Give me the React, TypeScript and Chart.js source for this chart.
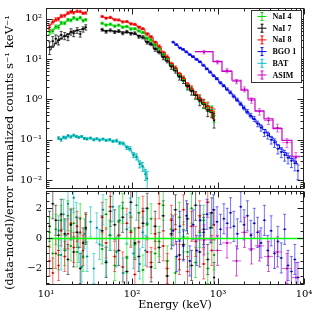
import { useEffect, useRef } from 'react';
import { Chart, registerables } from 'chart.js';
Chart.register(...registerables);

// ---------- axis limits ----------
const X_MIN = 10, X_MAX = 10000;
const Y_MIN = 0.006, Y_MAX = 186;
const R_MIN = -3.1, R_MAX = 3.15;

// ---------- NaI (GBM) ----------
const naiLowE = [11, 12, 13, 14, 15, 16.5, 18, 19.5, 21, 23, 25, 27, 29];
const naiHighE = [45, 50, 56, 63, 70, 78, 87, 97, 108, 120, 134, 150, 167, 186, 207, 231, 257, 287, 320, 356, 397, 442, 493, 549, 612, 682, 760, 847, 900];
const naiLowErr = [0.15, 0.12, 0.1, 0.1, 0.09, 0.08, 0.08, 0.08, 0.07, 0.07, 0.07, 0.07, 0.07];
const naiLowErrBlack = [0.35, 0.3, 0.25, 0.25, 0.22, 0.2, 0.2, 0.18, 0.18, 0.16, 0.16, 0.15, 0.15];
const naiHighErr = [0.06, 0.06, 0.06, 0.06, 0.06, 0.06, 0.06, 0.06, 0.06, 0.06, 0.06, 0.07, 0.07, 0.08, 0.08, 0.09, 0.1, 0.1, 0.11, 0.12, 0.13, 0.14, 0.15, 0.17, 0.19, 0.21, 0.23, 0.26, 0.3];
const naiHighErrBlack = [0.08, 0.08, 0.08, 0.08, 0.08, 0.08, 0.08, 0.08, 0.08, 0.08, 0.09, 0.09, 0.1, 0.1, 0.11, 0.12, 0.13, 0.14, 0.15, 0.16, 0.17, 0.18, 0.2, 0.22, 0.24, 0.26, 0.28, 0.3, 0.35];

const nai8ModelLow = [70, 82, 93, 103, 112, 124, 135, 143, 148, 150, 148, 143, 136];
const nai8DataLow = [62, 85, 97, 99, 118, 120, 140, 150, 142, 155, 152, 138, 140];
const nai8ModelHigh = [111, 108, 105, 98, 91, 87, 83, 78, 71, 65, 55, 44, 35, 27, 20.5, 15, 11, 7.9, 5.9, 4.4, 3.3, 2.44, 1.81, 1.36, 1.06, 0.84, 0.67, 0.53, 0.42];
const nai8DataHigh = [115, 104, 109, 95, 94, 84, 86, 75, 73, 62, 57, 42, 36, 26, 21, 14.5, 11.5, 7.6, 6.1, 4.2, 3.4, 2.3, 1.9, 1.3, 1.1, 0.8, 0.7, 0.5, 0.45];

const nai4ModelLow = [45, 53, 61, 68, 75, 83, 90, 96, 100, 102, 101, 97, 92];
const nai4DataLow = [48, 50, 64, 62, 80, 78, 95, 92, 106, 98, 108, 90, 95];
const nai4ModelHigh = [75, 73, 71, 69, 68, 65, 62, 59, 55, 52, 44, 35, 29, 23.7, 18.4, 13.7, 10.1, 7.5, 5.6, 4.2, 3.1, 2.3, 1.71, 1.29, 1.0, 0.79, 0.63, 0.5, 0.4];
const nai4DataHigh = [78, 70, 74, 66, 70, 62, 65, 56, 57, 50, 46, 33, 30, 22.5, 19, 13, 10.5, 7.2, 5.8, 4.0, 3.2, 2.2, 1.8, 1.25, 1.05, 0.75, 0.66, 0.55, 0.38];

const nai7ModelLow = [17, 21, 25, 29, 33, 37, 41, 45, 48, 51, 54, 57, 59];
const nai7DataLow = [20, 28, 32, 30, 40, 38, 36, 48, 44, 52, 42, 55, 62];
const nai7ModelHigh = [51, 51, 51, 49, 48, 47, 46, 45, 42, 39, 34, 27.5, 23, 18.4, 14.7, 11.7, 8.9, 6.8, 5.1, 3.8, 2.9, 2.2, 1.67, 1.27, 0.98, 0.76, 0.57, 0.47, 0.33];
const nai7DataHigh = [54, 48, 52, 47, 50, 44, 48, 43, 44, 36, 35, 26, 24, 17.5, 15.2, 11, 9.3, 6.5, 5.3, 3.6, 3.0, 2.1, 1.6, 1.3, 0.92, 0.8, 0.52, 0.5, 0.3];

// ---------- BAT ----------
const batE = [14, 15, 16, 17, 18, 19.5, 21, 22.5, 24, 26, 28, 30, 33, 36, 39, 42, 46, 50, 55, 60, 66, 72, 79, 87, 95, 104, 113, 123, 133, 143, 150];
const batModel = [0.105, 0.108, 0.112, 0.116, 0.12, 0.123, 0.124, 0.123, 0.12, 0.117, 0.113, 0.11, 0.107, 0.105, 0.104, 0.103, 0.102, 0.1, 0.098, 0.095, 0.092, 0.087, 0.079, 0.068, 0.056, 0.045, 0.036, 0.028, 0.021, 0.016, 0.012];
const batData = [0.11, 0.1, 0.115, 0.112, 0.125, 0.118, 0.13, 0.121, 0.115, 0.12, 0.108, 0.105, 0.11, 0.1, 0.106, 0.098, 0.104, 0.097, 0.1, 0.092, 0.095, 0.083, 0.081, 0.064, 0.06, 0.042, 0.038, 0.025, 0.022, 0.014, 0.011];
const batErr = [0.08, 0.08, 0.07, 0.07, 0.07, 0.07, 0.06, 0.06, 0.06, 0.06, 0.06, 0.06, 0.06, 0.06, 0.06, 0.06, 0.06, 0.06, 0.07, 0.07, 0.08, 0.08, 0.09, 0.1, 0.12, 0.14, 0.17, 0.2, 0.25, 0.3, 0.5];

// ---------- BGO ----------
const bgoE = [300, 330, 360, 395, 430, 470, 515, 565, 620, 680, 745, 815, 890, 975, 1070, 1170, 1280, 1400, 1530, 1680, 1840, 2010, 2200, 2410, 2640, 2890, 3160, 3460, 3790, 4150, 4540, 4970, 5440, 5960, 6520, 7140, 7820, 8500];
const bgoModel = [25.8, 22.2, 19.4, 16.9, 14.7, 12.8, 11.1, 9.6, 8.3, 6.8, 5.5, 4.6, 3.8, 3.1, 2.55, 2.1, 1.73, 1.42, 1.16, 0.93, 0.74, 0.59, 0.47, 0.38, 0.32, 0.26, 0.22, 0.18, 0.147, 0.117, 0.094, 0.074, 0.059, 0.048, 0.04, 0.034, 0.0295, 0.0254];
const bgoData = [26.5, 23, 19, 17.5, 15.2, 13, 11.6, 9.9, 8.6, 7.1, 5.8, 4.8, 3.9, 3.3, 2.6, 2.2, 1.8, 1.5, 1.2, 0.98, 0.78, 0.62, 0.5, 0.4, 0.33, 0.25, 0.2, 0.15, 0.13, 0.1, 0.085, 0.06, 0.05, 0.042, 0.036, 0.03, 0.026, 0.017];
const bgoErr = [0.05, 0.05, 0.05, 0.05, 0.05, 0.05, 0.05, 0.05, 0.05, 0.05, 0.05, 0.06, 0.06, 0.06, 0.07, 0.07, 0.08, 0.08, 0.09, 0.1, 0.1, 0.11, 0.12, 0.13, 0.14, 0.16, 0.18, 0.2, 0.2, 0.22, 0.24, 0.26, 0.28, 0.3, 0.3, 0.32, 0.35, 0.4];

// ---------- ASIM ----------
const asimEdges = [540, 875, 1113, 1455, 1851, 2233, 2692, 3427, 4360, 5546, 7245, 8978];
const asimModel = [15.5, 8.8, 5.0, 3.0, 1.71, 1.03, 0.52, 0.33, 0.19, 0.096, 0.039];
const asimData = [15, 8.5, 5.2, 2.8, 1.8, 0.95, 0.5, 0.3, 0.2, 0.085, 0.037];
const asimErr = [0.1, 0.1, 0.12, 0.12, 0.14, 0.15, 0.18, 0.2, 0.22, 0.25, 0.3];

// ---------- residuals (data-model)/error ----------
const nai8ResLow = [-1.5, -2.3, -1.0, -1.8, 0.5, -1.2, 0.3, 1.0, -0.6, 0.8, 0.4, -0.8, 0.6];
const nai4ResLow = [0.4, -1.0, 0.6, -1.1, 1.2, -0.8, 1.5, -0.5, 1.0, -0.9, 1.3, -1.2, 0.6];
const nai7ResLow = [0.8, 2.3, 1.2, 0.2, 1.6, 0.3, -1.4, 0.9, -0.9, 0.4, -2.0, -0.3, 0.7];
const nai8ResHigh = [1.4, -0.3, 2.1, -1.2, 0.2, -1.9, 1.0, 0.4, -2.4, 0.7, 1.8, -0.9, -1.6, 0.3, 2.3, -0.5, -2.0, 1.2, 0.6, -1.4, 1.9, -2.2, 0.8, -0.2, 1.5, -1.7, 2.4, -0.8, 0.9];
const nai4ResHigh = [-0.7, 1.6, 0.2, -1.8, 1.1, 2.0, -1.3, 0.5, -0.4, 1.7, -2.1, 0.9, 1.3, -1.0, -0.2, 2.2, -1.5, 0.6, -2.3, 1.4, 0.1, -0.9, 2.0, -1.6, 0.4, 1.2, -2.0, 0.7, -1.1];
const nai7ResHigh = [0.5, -1.6, 1.8, 0.9, -0.8, 1.4, -2.2, 2.4, -0.3, -1.2, 1.0, 2.0, -1.9, 0.8, -0.6, 1.5, -2.5, 0.3, 1.9, -1.1, -0.4, 1.3, -1.8, 2.2, -0.9, 0.6, -1.4, 1.7, -2.6];
const batRes = [0.5, -1.1, 1.6, 0.2, 2.3, 0.9, 2.7, 1.4, -0.6, -1.9, 0.3, -1.2, 1.1, -2.0, 0.7, -0.4, 1.9, -1.5, 0.2, 2.1, -0.9, 1.2, -2.3, 0.6, 1.7, -1.0, 2.2, -1.7, 0.4, -0.8, 1.0];
const bgoRes = [0.5, -1.2, 0.8, -0.5, 1.5, -1.5, 0.9, -0.8, 1.2, 0.4, 1.6, 0.7, 1.9, 1.1, 0.6, 1.3, 1.0, 1.7, 0.8, 0.3, 2.1, 0.9, 1.5, 0.2, 1.0, 0.4, -0.3, 1.2, -0.8, 0.5, -1.0, -0.2, -1.3, 0.6, -1.8, -2.2, -1.4, -2.6];
const asimRes = [-0.1, -0.8, -0.3, -1.5, 0.4, -0.7, -0.5, -1.2, -0.9, -2.0, -2.6];

// ---------- labels ----------
const instruments = ['NaI 4', 'NaI 7', 'NaI 8', 'BGO 1', 'BAT', 'ASIM'];
const yTitleTop = 'normalized counts s\u207B\u00B9 keV\u207B\u00B9';
const yTitleBottom = '(data-model)/error';
const xTitle = 'Energy (keV)';

// ---------- styles ----------
const COL = {
  nai4: { line: '#00e000', bar: 'rgba(0,225,0,0.85)', pt: '#008800', res: 'rgba(0,220,0,0.6)' },
  nai7: { line: '#000000', bar: 'rgba(30,30,30,0.8)', pt: '#000000', res: 'rgba(0,0,0,0.55)' },
  nai8: { line: '#ff0000', bar: 'rgba(255,30,30,0.8)', pt: '#bb0000', res: 'rgba(255,0,0,0.55)' },
  bgo: { line: '#0000ff', bar: 'rgba(40,60,255,0.8)', pt: '#0000aa', res: 'rgba(0,0,255,0.55)' },
  bat: { line: '#00c0c0', bar: 'rgba(0,190,190,0.85)', pt: '#007f7f', res: 'rgba(0,190,190,0.6)' },
  asim: { line: '#cc00cc', bar: 'rgba(220,60,220,0.75)', pt: '#990099', res: 'rgba(204,0,204,0.65)' },
};
const FONT = 'DejaVu Serif';

const SUP: Record<string, string> = { '-': '\u207B', '0': '\u2070', '1': '\u00B9', '2': '\u00B2', '3': '\u00B3', '4': '\u2074' };
function decadeLabel(v: number) {
  const l = Math.log10(v);
  const r = Math.round(l);
  if (Math.abs(l - r) > 1e-6) return '';
  return '10' + String(r).split('').map((c) => SUP[c]).join('');
}

function bins(E: number[]) {
  const lo: number[] = [], hi: number[] = [];
  for (let i = 0; i < E.length; i++) {
    const l = i > 0 ? Math.sqrt(E[i - 1] * E[i]) : E[i] * Math.sqrt(E[i] / E[i + 1]);
    const h = i < E.length - 1 ? Math.sqrt(E[i] * E[i + 1]) : E[i] * Math.sqrt(E[i] / E[i - 1]);
    lo.push(l); hi.push(h);
  }
  return { lo, hi };
}
const pts = (E: number[], V: number[]) => E.map((e, i) => ({ x: e, y: V[i] }));

function modelSet(E: number[], V: number[], color: string) {
  return { data: pts(E, V), borderColor: color, borderWidth: 1, pointRadius: 0, stepped: 'middle', fill: false, showLine: true };
}
function dataSet(E: number[], V: number[], rel: number[], c: any, xlo?: number[], xhi?: number[]) {
  const b = bins(E);
  return {
    data: pts(E, V), showLine: false, pointRadius: 1, pointBorderWidth: 0, pointBackgroundColor: c.pt,
    eb: { xlo: xlo || b.lo, xhi: xhi || b.hi, ylo: V.map((v, i) => v * (1 - rel[i])), yhi: V.map((v, i) => v * (1 + rel[i])), color: c.bar },
  };
}
function resSet(E: number[], R: number[], c: any, xlo?: number[], xhi?: number[]) {
  const b = bins(E);
  return {
    data: pts(E, R), showLine: false, pointRadius: 1, pointBorderWidth: 0, pointBackgroundColor: c.pt,
    eb: { xlo: xlo || b.lo, xhi: xhi || b.hi, ylo: R.map((r) => r - 1), yhi: R.map((r) => r + 1), color: c.res },
  };
}

const asimCenters = asimModel.map((_, i) => Math.sqrt(asimEdges[i] * asimEdges[i + 1]));
const asimLo = asimEdges.slice(0, -1);
const asimHi = asimEdges.slice(1);
const asimStep = asimEdges.map((e, i) => ({ x: e, y: asimModel[Math.min(i, asimModel.length - 1)] }));

// ---------- plugins ----------
const errorBars = {
  id: 'errorBars',
  beforeDatasetsDraw(chart: any) {
    const { ctx, chartArea: a } = chart;
    const xs = chart.scales.x, ys = chart.scales.y;
    ctx.save();
    ctx.beginPath();
    ctx.rect(a.left, a.top, a.right - a.left, a.bottom - a.top);
    ctx.clip();
    ctx.lineWidth = 1;
    for (const ds of chart.data.datasets) {
      const eb = ds.eb;
      if (!eb) continue;
      ctx.strokeStyle = eb.color;
      ds.data.forEach((p: any, i: number) => {
        const px = xs.getPixelForValue(p.x), py = ys.getPixelForValue(p.y);
        const x0 = xs.getPixelForValue(eb.xlo[i]), x1 = xs.getPixelForValue(eb.xhi[i]);
        const y0 = ys.getPixelForValue(eb.ylo[i]), y1 = ys.getPixelForValue(eb.yhi[i]);
        ctx.beginPath();
        ctx.moveTo(x0, py); ctx.lineTo(x1, py);
        ctx.moveTo(px, y0); ctx.lineTo(px, y1);
        ctx.moveTo(px - 1.5, y0); ctx.lineTo(px + 1.5, y0);
        ctx.moveTo(px - 1.5, y1); ctx.lineTo(px + 1.5, y1);
        ctx.stroke();
      });
    }
    ctx.restore();
  },
};

function frameAndTicks(yTicks: { v: number; major: boolean }[], title: string, titleSize: number) {
  return {
    id: 'frameTicks',
    afterDraw(chart: any) {
      const { ctx, chartArea: a } = chart;
      const xs = chart.scales.x, ys = chart.scales.y;
      const L = Math.round(a.left) + 0.5, R = Math.round(a.right) - 0.5, T = Math.round(a.top) + 0.5, B = Math.round(a.bottom) - 0.5;
      ctx.save();
      ctx.strokeStyle = '#222';
      ctx.lineWidth = 1;
      ctx.strokeRect(L, T, R - L, B - T);
      ctx.beginPath();
      for (let d = 1; d <= 4; d++) {
        for (let m = 1; m <= 9; m++) {
          const v = m * Math.pow(10, d);
          if (v > X_MAX * 1.0001) continue;
          const px = Math.round(xs.getPixelForValue(v)) + 0.5;
          const len = m === 1 ? 6 : 3;
          ctx.moveTo(px, B); ctx.lineTo(px, B - len);
          ctx.moveTo(px, T); ctx.lineTo(px, T + len);
        }
      }
      for (const t of yTicks) {
        const py = Math.round(ys.getPixelForValue(t.v)) + 0.5;
        if (py < T - 0.1 || py > B + 0.1) continue;
        const len = t.major ? 6 : 3;
        ctx.moveTo(L, py); ctx.lineTo(L + len, py);
        ctx.moveTo(R, py); ctx.lineTo(R - len, py);
      }
      ctx.stroke();
      // rotated y-axis title
      ctx.fillStyle = '#000';
      ctx.font = `${titleSize}px "${FONT}"`;
      ctx.textAlign = 'center';
      ctx.textBaseline = 'middle';
      ctx.translate(10, (a.top + a.bottom) / 2);
      ctx.rotate(-Math.PI / 2);
      ctx.fillText(title, 0, 0);
      ctx.restore();
    },
  };
}

const legendPlugin = {
  id: 'boxLegend',
  afterDraw(chart: any) {
    const { ctx, chartArea: a } = chart;
    const colors = [COL.nai4, COL.nai7, COL.nai8, COL.bgo, COL.bat, COL.asim];
    const w = 50, h = 72;
    const x0 = Math.round(a.right) - 52.5, y0 = Math.round(a.top) + 2.5;
    ctx.save();
    ctx.fillStyle = '#fff';
    ctx.fillRect(x0, y0, w, h);
    ctx.strokeStyle = '#333';
    ctx.lineWidth = 1;
    ctx.strokeRect(x0, y0, w, h);
    ctx.font = `bold 8px "Liberation Serif"`;
    ctx.textBaseline = 'middle';
    ctx.textAlign = 'left';
    instruments.forEach((name, i) => {
      const cy = y0 + 6 + i * 11.7;
      const cx = x0 + 10.5;
      ctx.strokeStyle = colors[i].line;
      ctx.beginPath();
      ctx.moveTo(cx - 4.5, cy); ctx.lineTo(cx + 4.5, cy);
      ctx.moveTo(cx, cy - 4); ctx.lineTo(cx, cy + 4);
      ctx.moveTo(cx - 1.5, cy - 4); ctx.lineTo(cx + 1.5, cy - 4);
      ctx.moveTo(cx - 1.5, cy + 4); ctx.lineTo(cx + 1.5, cy + 4);
      ctx.stroke();
      ctx.fillStyle = '#000';
      ctx.fillText(name, x0 + 21, cy + 0.5);
    });
    ctx.restore();
  },
};

const yTopTicks: { v: number; major: boolean }[] = [];
for (let d = -3; d <= 2; d++) for (let m = 1; m <= 9; m++) yTopTicks.push({ v: m * Math.pow(10, d), major: m === 1 });
const yBotTicks: { v: number; major: boolean }[] = [];
for (let k = -6; k <= 6; k++) yBotTicks.push({ v: k / 2, major: k % 4 === 0 });

function zeroFit(size: 'width' | 'height', n: number) {
  return (s: any) => {
    s[size] = n;
    s.paddingLeft = 0; s.paddingRight = 0; s.paddingTop = 0; s.paddingBottom = 0;
  };
}

export default function App() {
  const topRef = useRef<HTMLCanvasElement>(null);
  const botRef = useRef<HTMLCanvasElement>(null);

  useEffect(() => {
    const topChart = new Chart(topRef.current as HTMLCanvasElement, {
      type: 'line',
      data: {
        datasets: [
          modelSet(naiLowE, nai7ModelLow, COL.nai7.line), modelSet(naiHighE, nai7ModelHigh, COL.nai7.line),
          modelSet(naiLowE, nai8ModelLow, COL.nai8.line), modelSet(naiHighE, nai8ModelHigh, COL.nai8.line),
          modelSet(naiLowE, nai4ModelLow, COL.nai4.line), modelSet(naiHighE, nai4ModelHigh, COL.nai4.line),
          modelSet(batE, batModel, COL.bat.line),
          modelSet(bgoE, bgoModel, COL.bgo.line),
          { data: asimStep, borderColor: COL.asim.line, borderWidth: 1.2, pointRadius: 0, stepped: 'before', fill: false, showLine: true },
          dataSet(naiLowE, nai7DataLow, naiLowErrBlack, COL.nai7), dataSet(naiHighE, nai7DataHigh, naiHighErrBlack, COL.nai7),
          dataSet(naiLowE, nai4DataLow, naiLowErr, COL.nai4), dataSet(naiHighE, nai4DataHigh, naiHighErr, COL.nai4),
          dataSet(naiLowE, nai8DataLow, naiLowErr, COL.nai8), dataSet(naiHighE, nai8DataHigh, naiHighErr, COL.nai8),
          dataSet(batE, batData, batErr, COL.bat),
          dataSet(bgoE, bgoData, bgoErr, COL.bgo),
          dataSet(asimCenters, asimData, asimErr, COL.asim, asimLo, asimHi),
        ] as any,
      },
      options: {
        animation: false,
        responsive: false,
        events: [],
        layout: { padding: { left: 0, right: 16, top: 8, bottom: 0 } },
        plugins: { legend: { display: false }, tooltip: { enabled: false } },
        scales: {
          x: {
            type: 'logarithmic', min: X_MIN, max: X_MAX,
            grid: { display: false, drawTicks: false }, border: { display: false },
            ticks: { display: false },
            afterFit: zeroFit('height', 2),
          },
          y: {
            type: 'logarithmic', min: Y_MIN, max: Y_MAX,
            grid: { display: false, drawTicks: false }, border: { display: false },
            ticks: { autoSkip: false, maxRotation: 0, padding: 4, color: '#000', font: { family: FONT, size: 10 }, callback: (v: any) => decadeLabel(Number(v)) },
            afterFit: zeroFit('width', 46),
          },
        },
      } as any,
      plugins: [errorBars, frameAndTicks(yTopTicks, yTitleTop, 11.7), legendPlugin],
    });

    const botChart = new Chart(botRef.current as HTMLCanvasElement, {
      type: 'line',
      data: {
        datasets: [
          { data: [{ x: X_MIN, y: 0 }, { x: X_MAX, y: 0 }], borderColor: '#00ff00', borderWidth: 1.5, pointRadius: 0, showLine: true },
          resSet(naiLowE, nai7ResLow, COL.nai7), resSet(naiHighE, nai7ResHigh, COL.nai7),
          resSet(naiLowE, nai4ResLow, COL.nai4), resSet(naiHighE, nai4ResHigh, COL.nai4),
          resSet(naiLowE, nai8ResLow, COL.nai8), resSet(naiHighE, nai8ResHigh, COL.nai8),
          resSet(batE, batRes, COL.bat),
          resSet(bgoE, bgoRes, COL.bgo),
          resSet(asimCenters, asimRes, COL.asim, asimLo, asimHi),
        ] as any,
      },
      options: {
        animation: false,
        responsive: false,
        events: [],
        layout: { padding: { left: 0, right: 16, top: 14, bottom: 0 } },
        plugins: { legend: { display: false }, tooltip: { enabled: false } },
        scales: {
          x: {
            type: 'logarithmic', min: X_MIN, max: X_MAX,
            grid: { display: false, drawTicks: false }, border: { display: false },
            ticks: { autoSkip: false, maxRotation: 0, padding: 3, color: '#000', font: { family: FONT, size: 10 }, callback: (v: any) => decadeLabel(Number(v)) },
            title: { display: true, text: xTitle, color: '#000', font: { family: FONT, size: 11 }, padding: { top: 0, bottom: 8 } },
            afterFit: zeroFit('height', 35),
          },
          y: {
            type: 'linear', min: R_MIN, max: R_MAX,
            grid: { display: false, drawTicks: false }, border: { display: false },
            ticks: {
              autoSkip: false, stepSize: 1, padding: 4, color: '#000', font: { family: FONT, size: 10 },
              callback: (v: any) => { const n = Number(v); return n === 2 ? '2' : n === 0 ? '0' : n === -2 ? '\u22122' : ''; },
            },
            afterFit: zeroFit('width', 46),
          },
        },
      } as any,
      plugins: [errorBars, frameAndTicks(yBotTicks, yTitleBottom, 11)],
    });

    return () => { topChart.destroy(); botChart.destroy(); };
  }, []);

  return (
    <div style={{ position: 'absolute', left: 0, top: 0, width: 320, height: 320, background: '#fff' }}>
      <canvas ref={topRef} width={320} height={193} style={{ position: 'absolute', left: 0, top: 0, width: 320, height: 193 }} />
      <canvas ref={botRef} width={320} height={143} style={{ position: 'absolute', left: 0, top: 177, width: 320, height: 143 }} />
    </div>
  );
}
